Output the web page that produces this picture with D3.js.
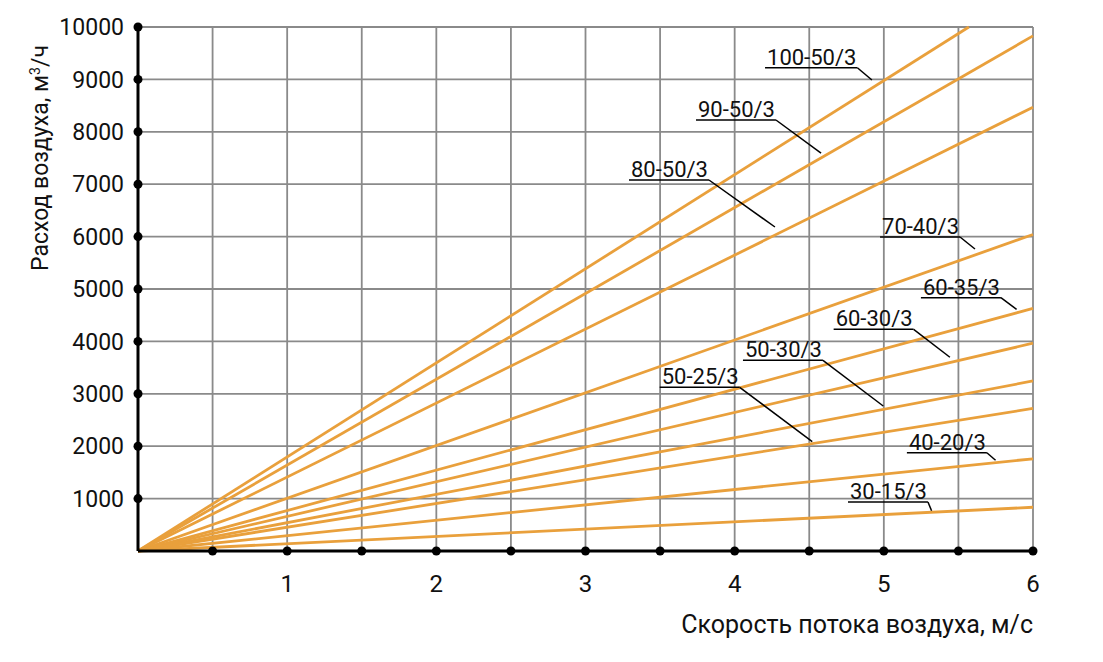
<!DOCTYPE html>
<html>
<head>
<meta charset="utf-8">
<script src="https://cdn.jsdelivr.net/npm/d3@7"></script>
<style>
  body { margin: 0; background: #fff; }
  text { font-family: Roboto, "DejaVu Sans", sans-serif; fill: #111; }
</style>
</head>
<body>
<svg id="chart" width="1103" height="662"></svg>
<script>
// series names and their straight-line end points [speed, flow]
var seriesNames = ["100-50/3", "90-50/3", "80-50/3", "70-40/3", "60-35/3",
                   "60-30/3", "50-30/3", "50-25/3", "40-20/3", "30-15/3"];
var endSpeed = [5.57, 6, 6, 6, 6, 6, 6, 6, 6, 6];
var endFlow  = [10000, 9830, 8470, 6040, 4630, 3965, 3245, 2720, 1760, 835];

// tick labels
var xTicks = [1, 2, 3, 4, 5, 6];
var yTicks = [1000, 2000, 3000, 4000, 5000, 6000, 7000, 8000, 9000, 10000];

var svg = d3.select("#chart"),
    margin = {top: 27, right: 70, bottom: 111, left: 138},
    width = +svg.attr("width") - margin.left - margin.right,
    height = +svg.attr("height") - margin.top - margin.bottom;
var g = svg.append("g").attr("transform", "translate(" + margin.left + "," + margin.top + ")");

var x = d3.scaleLinear().domain([0, 6]).range([0, width]);
var y = d3.scaleLinear().domain([0, 10000]).range([height, 0]);

var orange = "#e9a03c";

// grid every 0.5 m/s and every 1000 m3/h
var xGrid = d3.range(0.5, 6.01, 0.5);
g.append("g").selectAll("line")
  .data(xGrid).enter().append("line")
  .attr("x1", d => x(d)).attr("x2", d => x(d))
  .attr("y1", 0).attr("y2", height)
  .attr("stroke", "#8a8a8a").attr("stroke-width", 1.8);

g.append("g").selectAll("line")
  .data(yTicks).enter().append("line")
  .attr("x1", 0).attr("x2", width)
  .attr("y1", d => y(d)).attr("y2", d => y(d))
  .attr("stroke", "#8a8a8a").attr("stroke-width", 1.8);

// series lines
var line = d3.line().x(d => x(d[0])).y(d => y(d[1]));
g.append("g").selectAll("path")
  .data(seriesNames).enter().append("path")
  .attr("d", (d, i) => line([[0, 0], [endSpeed[i], endFlow[i]]]))
  .attr("fill", "none")
  .attr("stroke", orange)
  .attr("stroke-width", 2.8);

// axes
g.append("line").attr("x1", 0).attr("x2", 0).attr("y1", 0).attr("y2", height)
  .attr("stroke", "#000").attr("stroke-width", 3);
g.append("line").attr("x1", 0).attr("x2", width).attr("y1", height).attr("y2", height)
  .attr("stroke", "#000").attr("stroke-width", 3);

g.append("g").selectAll("circle")
  .data(xGrid).enter().append("circle")
  .attr("cx", d => x(d)).attr("cy", height).attr("r", 4.5).attr("fill", "#000");
g.append("g").selectAll("circle")
  .data(yTicks).enter().append("circle")
  .attr("cx", 0).attr("cy", d => y(d)).attr("r", 4.5).attr("fill", "#000");

g.append("g").selectAll("text")
  .data(xTicks).enter().append("text")
  .attr("x", d => x(d)).attr("y", height + 41)
  .attr("text-anchor", "middle")
  .style("font-size", "24px")
  .text(d => d);

g.append("g").selectAll("text")
  .data(yTicks).enter().append("text")
  .attr("x", -14).attr("y", d => y(d))
  .attr("dy", "0.36em")
  .attr("text-anchor", "end")
  .style("font-size", "23px")
  .text(d => d);

// axis titles
g.append("text")
  .attr("x", width).attr("y", height + 82)
  .attr("text-anchor", "end")
  .style("font-size", "25px")
  .text("Скорость потока воздуха, м/с");

var yt = g.append("text")
  .attr("transform", "translate(" + (-90) + "," + (y(7500)) + ") rotate(-90)")
  .attr("text-anchor", "middle")
  .style("font-size", "23px");
yt.append("tspan").text("Расход воздуха, м");
yt.append("tspan").attr("baseline-shift", "super").style("font-size", "14px").text("3");
yt.append("tspan").text("/ч");

// label layout: text start (m/s), underline level (m3/h), leader end (m/s, m3/h)
var labelPos = [
  [4.217, 9223, 4.92, 8989],
  [3.754, 8225, 4.579, 7595],
  [3.305, 7080, 4.270, 6183],
  [4.988, 5992, 5.611, 5763],
  [5.262, 4834, 5.890, 4613],
  [4.677, 4231, 5.443, 3697],
  [4.069, 3639, 4.996, 2767],
  [3.511, 3124, 4.520, 2086],
  [5.168, 1876, 5.749, 1731],
  [4.773, 935, 5.320, 769]
];

var labels = g.append("g");
seriesNames.forEach(function (name, i) {
  var p = labelPos[i];
  var t = labels.append("text")
    .attr("x", x(p[0])).attr("y", y(p[1]) - 3)
    .style("font-size", "22px")
    .text(name);
  var w = t.node().getComputedTextLength();
  var ux1 = x(p[0]) - 2, ux2 = x(p[0]) + w + 1;
  labels.append("line")
    .attr("x1", ux1).attr("x2", ux2)
    .attr("y1", y(p[1])).attr("y2", y(p[1]))
    .attr("stroke", "#000").attr("stroke-width", 1.5);
  labels.append("line")
    .attr("x1", ux2).attr("x2", x(p[2]))
    .attr("y1", y(p[1])).attr("y2", y(p[3]))
    .attr("stroke", "#000").attr("stroke-width", 1.5);
});
</script>
</body>
</html>
